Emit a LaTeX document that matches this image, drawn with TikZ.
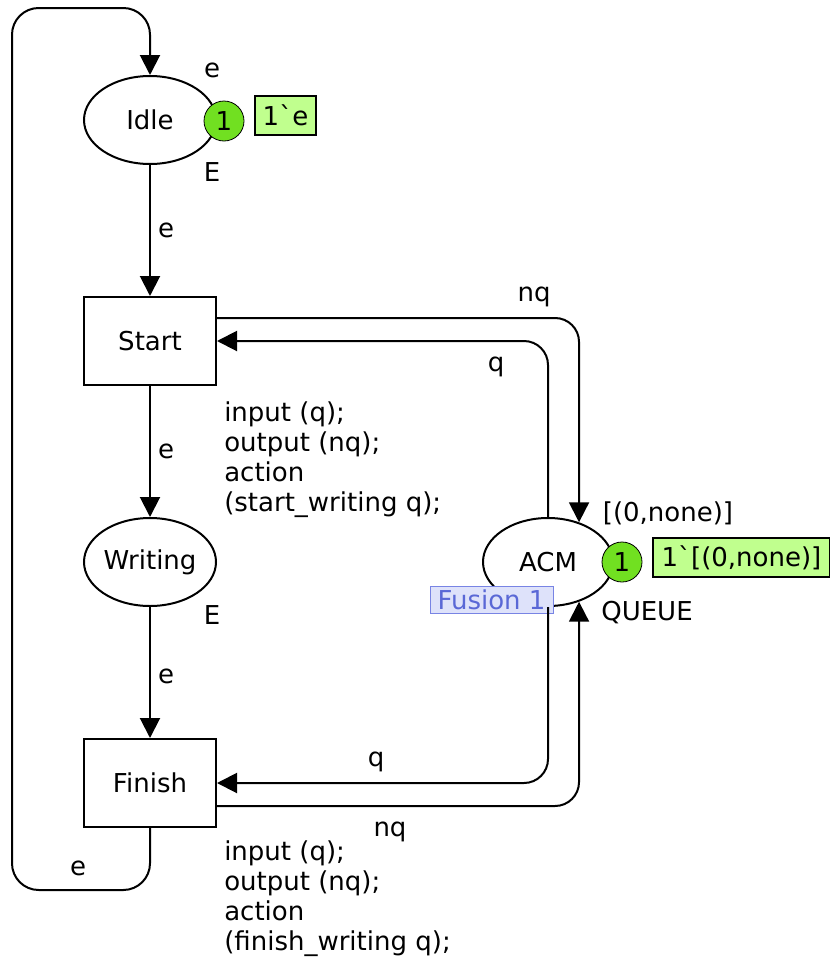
\documentclass[tikz,border=0pt]{standalone}
\usepackage{fontspec}
\setmainfont{DejaVu Sans}
\usepackage{xcolor}
\usetikzlibrary{shapes.geometric, arrows.meta}
\definecolor{tokengreen}{RGB}{113,224,33}
\definecolor{markgreen}{RGB}{192,255,142}
\definecolor{fusionfill}{RGB}{222,226,250}
\definecolor{fusionline}{RGB}{120,132,228}
\definecolor{fusiontext}{RGB}{90,104,214}
\tikzstyle{place} = [ellipse, minimum width=99pt, minimum height=66pt, inner sep=0pt, draw=black, line width=1.5pt]
\tikzstyle{transition} = [rectangle, minimum width=99pt, minimum height=66pt, inner sep=0pt, draw=black, line width=1.5pt]
\tikzstyle{token} = [circle, minimum size=30pt, inner sep=0pt, draw=black, line width=0.6pt, fill=tokengreen]
\tikzstyle{marking} = [rectangle, minimum height=29.25pt, inner sep=0pt, draw=black, line width=1.2pt, fill=markgreen]
\tikzstyle{fusion} = [rectangle, minimum width=92.25pt, minimum height=20.25pt, inner sep=0pt, draw=fusionline, fill=fusionfill, text=fusiontext, line width=0.6pt]
\tikzstyle{inscr} = [inner sep=0pt]
\tikzstyle{code} = [inner sep=0pt, align=left, anchor=north west]
\tikzstyle{arc} = [line width=1.5pt, -{Triangle[length=15pt,width=15pt]}, rounded corners=18pt]

\begin{document}
\begin{tikzpicture}[x=0.75pt, y=-0.75pt, node distance=165.75pt,
  every node/.style={font=\fontsize{19.5}{22.5}\selectfont}]
\useasboundingbox (0,0) rectangle (830,960);

% --------- Places and transitions ----------
\node (IDLE)    [place] at (150,120) {Idle};
\node (START)   [transition, below of=IDLE] {Start};
\node (WRITING) [place, below of=START] {Writing};
\node (FINISH)  [transition, below of=WRITING] {Finish};
\node (ACM)     [place, right of=WRITING, xshift=132.75pt, minimum width=97.5pt] {ACM};

% --------- Markings and inscriptions ----------
\node (IDLE_TOK)  [token] at (224,121) {1};
\node (IDLE_MARK) [marking, minimum width=45.75pt] at (285.5,115.5) {1\textasciigrave e};
\node (IDLE_INIT) [inscr] at (212,70) {e};
\node (IDLE_TYPE) [inscr] at (212,172) {E};
\node (WRITING_TYPE) [inscr] at (212,615) {E};

\node (ACM_TOK)  [token] at (622,562) {1};
\node (ACM_MARK) [marking, minimum width=132.75pt] at (741.5,557.5) {1\textasciigrave[(0,none)]};
\node (ACM_INIT) [inscr] at (668,513) {[(0,none)]};
\node (ACM_TYPE) [inscr] at (647,613) {QUEUE};
\node (ACM_FUS)  [fusion] at (491.5,599.5) {Fusion 1};

% code segments
\node (START_CODE)  [code] at (224,401) {input (q);\\output (nq);\\action\\(start\_writing q);};
\node (FINISH_CODE) [code] at (224,840) {input (q);\\output (nq);\\action\\(finish\_writing q);};

% arc labels
\node (L_IS)  [inscr] at (166,230) {e};
\node (L_SW)  [inscr] at (166,451) {e};
\node (L_WF)  [inscr] at (166,676) {e};
\node (L_FI)  [inscr] at (78,868) {e};
\node (L_SA)  [inscr] at (534,297) {nq};
\node (L_AS)  [inscr] at (496,367) {q};
\node (L_AF)  [inscr] at (376,762) {q};
\node (L_FA)  [inscr] at (390,832) {nq};

% --------- Arcs ----------
\coordinate (LOOP_BL) at (12,890);
\coordinate (LOOP_TL) at (12,8);

\draw [arc] (IDLE) -- (START);
\draw [arc] (START) -- (WRITING);
\draw [arc] (WRITING) -- (FINISH);
\draw [arc, rounded corners=20pt] (FINISH.south) |- (LOOP_BL) -- (LOOP_TL) -| (IDLE.north);

\draw [arc] ([yshift=17.25pt]START.east) -| (ACM.52);
\draw [arc] (ACM.north) |- (START.east);
\draw [arc] (ACM.south) |- (FINISH.east);
\draw [arc] ([yshift=-17.25pt]FINISH.east) -| (ACM.-52);

\end{tikzpicture}
\end{document}
